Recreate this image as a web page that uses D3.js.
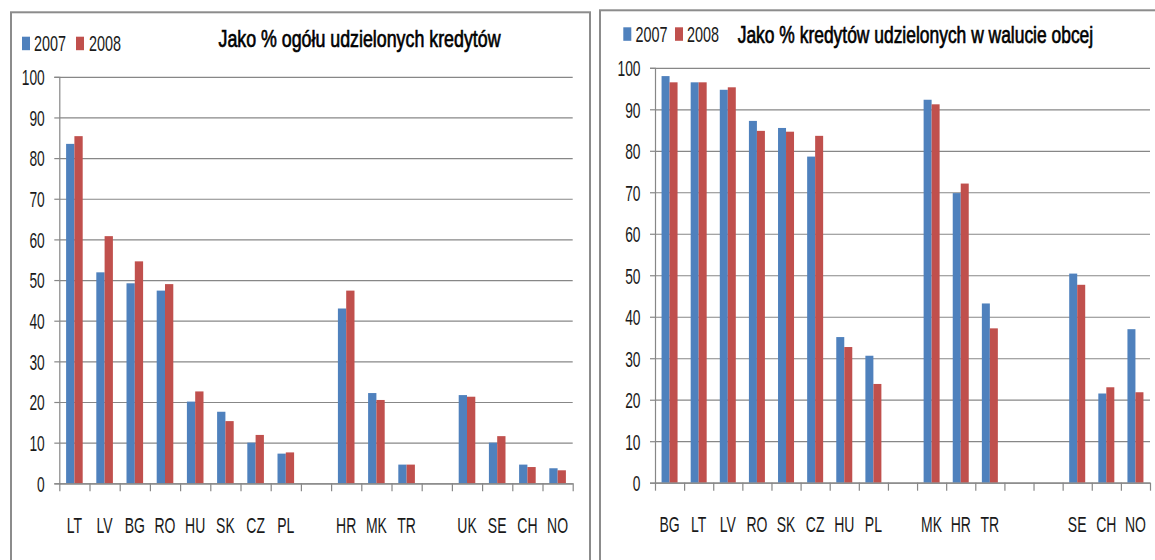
<!DOCTYPE html>
<html>
<head>
<meta charset="utf-8">
<script src="https://cdn.jsdelivr.net/npm/d3@7/dist/d3.min.js"></script>
<style>
  html, body { margin: 0; padding: 0; background: #fff; }
  svg { display: block; }
</style>
</head>
<body>
<svg id="chart" width="1155" height="560"></svg>
<script>
// ---------- DATA ----------
const seriesNames = ["2007", "2008"];
const seriesColors = ["#4F81BD", "#C0504D"];
const yTicks = [0, 10, 20, 30, 40, 50, 60, 70, 80, 90, 100];

const leftTitle = "Jako % ogółu udzielonych kredytów";
const leftCategories = ["LT","LV","BG","RO","HU","SK","CZ","PL","","HR","MK","TR","","UK","SE","CH","NO"];
const left2007 = [83.5, 51.9, 49.2, 47.4, 20.1, 17.6, 10.0, 7.3, null, 43.0, 22.2, 4.6, null, 21.7, 10.0, 4.6, 3.7];
const left2008 = [85.4, 60.8, 54.6, 49.0, 22.6, 15.3, 11.9, 7.6, null, 47.4, 20.5, 4.6, null, 21.3, 11.6, 4.0, 3.2];

const rightTitle = "Jako % kredytów udzielonych w walucie obcej";
const rightCategories = ["BG","LT","LV","RO","SK","CZ","HU","PL","","MK","HR","TR","","","SE","CH","NO"];
const right2007 = [98.0, 96.5, 94.7, 87.2, 85.5, 78.6, 35.1, 30.6, null, 92.3, 69.8, 43.2, null, null, 50.4, 21.5, 37.0];
const right2008 = [96.5, 96.5, 95.3, 84.8, 84.6, 83.6, 32.7, 23.8, null, 91.2, 72.1, 37.2, null, null, 47.7, 23.0, 21.8];

// ---------- DRAWING ----------
const svg = d3.select("#chart");
const FONT = "'Liberation Sans', Arial, sans-serif";
const GRID = "#878787";

function addText(g, s, x, y, o) {
  const t = g.append("text")
    .attr("transform", `translate(${x},${y}) scale(1,${o.sy})`)
    .attr("font-family", FONT)
    .attr("font-size", o.size)
    .attr("fill", o.fill || "#111")
    .attr("text-anchor", o.anchor || "start")
    .text(s);
  if (o.width) t.attr("textLength", o.width).attr("lengthAdjust", "spacingAndGlyphs");
  if (o.stroke) t.attr("stroke", o.fill || "#111").attr("stroke-width", o.stroke);
  return t;
}

function panel(cfg) {
  const g = svg.append("g");
  // frame
  g.append("rect")
    .attr("x", cfg.frame[0]).attr("y", cfg.frame[1])
    .attr("width", cfg.frame[2]).attr("height", cfg.frame[3])
    .attr("fill", "#fff").attr("stroke", "#8c8c8c").attr("stroke-width", 2);

  const n = cfg.categories.length;
  const idx = d3.range(n);
  const x = d3.scaleBand().domain(idx).range([cfg.x0, cfg.x1]).paddingInner(0).paddingOuter(0);
  const xs = d3.scaleBand().domain(seriesNames).range([0, x.bandwidth()]).paddingInner(0).paddingOuter(0.82);
  const xLin = d3.scaleLinear().domain([0, n]).range([cfg.x0, cfg.x1]);
  const y = d3.scaleLinear().domain([0, 100]).range([cfg.y0, cfg.y100]);

  // gridlines
  const grid = g.append("g").attr("transform", `translate(${cfg.x0},0)`)
    .call(d3.axisLeft(y).tickValues(yTicks).tickSize(-(cfg.x1 - cfg.x0)).tickFormat(""));
  grid.select(".domain").remove();
  grid.selectAll("line").attr("stroke", GRID).attr("stroke-width", 1.2);

  // bars
  const series = [cfg.s2007, cfg.s2008];
  series.forEach((vals, si) => {
    g.append("g").selectAll("rect")
      .data(idx.filter(i => vals[i] != null))
      .join("rect")
      .attr("x", i => x(i) + xs(seriesNames[si]))
      .attr("width", xs.bandwidth())
      .attr("y", i => y(vals[i]))
      .attr("height", i => y(0) - y(vals[i]))
      .attr("fill", seriesColors[si]);
  });

  // y axis
  const ya = g.append("g").attr("transform", `translate(${cfg.x0},0)`)
    .call(d3.axisLeft(y).tickValues(yTicks).tickSize(5).tickFormat(d3.format("d")));
  ya.select(".domain").attr("stroke", GRID).attr("stroke-width", 1.2);
  ya.selectAll("line").attr("stroke", GRID).attr("stroke-width", 1.2);
  ya.selectAll("text")
    .attr("x", null).attr("dy", "0.36em")
    .attr("transform", `translate(${-cfg.ylabGap},0) scale(1,1.58)`)
    .attr("font-family", FONT).attr("font-size", 13.8).attr("fill", "#1a1a1a");

  // x axis boundary ticks
  const xt = g.append("g").attr("transform", `translate(0,${cfg.y0})`)
    .call(d3.axisBottom(xLin).tickValues(d3.range(n + 1)).tickSize(8).tickSizeOuter(0).tickFormat(""));
  xt.select(".domain").attr("stroke", GRID).attr("stroke-width", 1.2);
  xt.selectAll("line").attr("stroke", GRID).attr("stroke-width", 1.2);

  // x labels
  const xl = g.append("g").attr("transform", `translate(0,${cfg.y0})`)
    .call(d3.axisBottom(x).tickSize(0).tickFormat(i => cfg.categories[i]));
  xl.select(".domain").remove();
  xl.selectAll("text")
    .attr("y", null).attr("dy", null)
    .attr("transform", `translate(0,${cfg.labBase - cfg.y0}) scale(1,1.55)`)
    .attr("font-family", FONT).attr("font-size", 14).attr("fill", "#1a1a1a");

  // legend
  cfg.legend.forEach((L, i) => {
    g.append("rect").attr("x", L.sx).attr("y", L.sy).attr("width", 8).attr("height", 13.5)
      .attr("fill", seriesColors[i]);
    addText(g, seriesNames[i], L.tx, L.base, {size: 15, sy: 1.47, width: 32, fill: "#1a1a1a"});
  });

  // title
  addText(g, cfg.title, cfg.titleX, cfg.titleBase, {size: 17.5, sy: 1.32, width: cfg.titleW, fill: "#000", stroke: 0.5});
}

panel({
  frame: [11, 12.3, 579, 620],
  x0: 59.3, x1: 572.7, y0: 483.3, y100: 76.8,
  categories: leftCategories, s2007: left2007, s2008: left2008,
  ylabGap: 14.5, labBase: 532.5,
  legend: [{sx: 22, sy: 36.7, tx: 34, base: 50.7}, {sx: 76, sy: 36.7, tx: 89, base: 50.7}],
  title: leftTitle, titleX: 218.5, titleBase: 46.5, titleW: 282
});

panel({
  frame: [600, 10.3, 620, 620],
  x0: 655, x1: 1150, y0: 482.7, y100: 67.8,
  categories: rightCategories, s2007: right2007, s2008: right2008,
  ylabGap: 14.5, labBase: 531.8,
  legend: [{sx: 623.3, sy: 27.3, tx: 635.5, base: 41.5}, {sx: 675, sy: 27.3, tx: 687, base: 41.5}],
  title: rightTitle, titleX: 737.7, titleBase: 42.7, titleW: 355.5
});
</script>
</body>
</html>
